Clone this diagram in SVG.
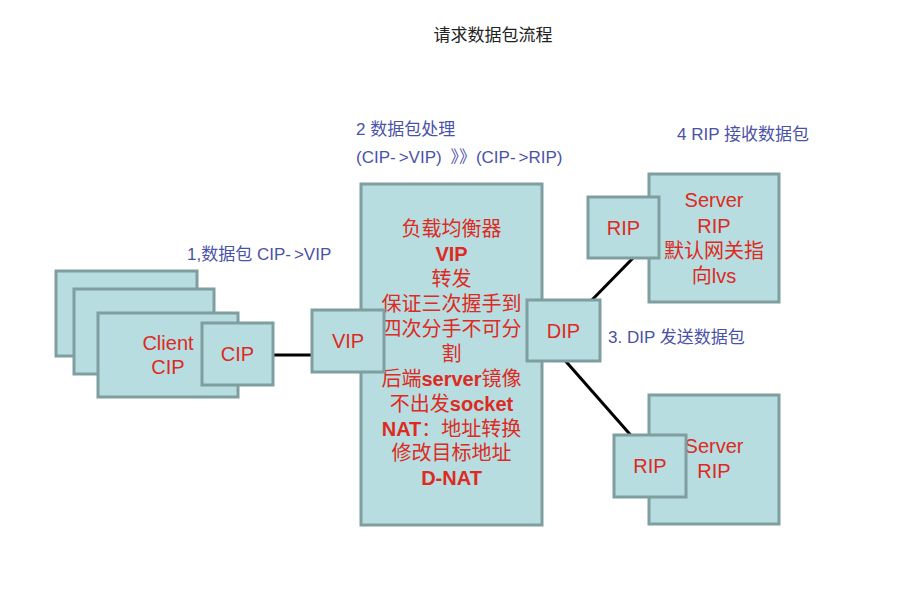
<svg xmlns="http://www.w3.org/2000/svg" width="915" height="607" viewBox="0 0 915 607">
<style>
.box{fill:#b7dde0;stroke:#7f9ea0;stroke-width:3}
.t{font-family:"Liberation Sans","Noto Sans CJK SC",sans-serif;fill:#dd2a22;font-size:20px;text-anchor:middle}
.b{font-weight:bold}
.lbl{font-family:"Liberation Sans","Noto Sans CJK SC",sans-serif;fill:#4a52a8;font-size:17px}
.title{font-family:"Noto Sans CJK SC","Liberation Sans",sans-serif;fill:#222;font-size:17px;text-anchor:middle}
.conn{stroke:#000;stroke-width:3;fill:none}
</style>
<rect width="915" height="607" fill="#fff"/>
<text class="title" x="493" y="41">请求数据包流程</text>

<g id="connectors">
<line class="conn" x1="270" y1="355" x2="315" y2="355"/>
<line class="conn" x1="587" y1="305" x2="637" y2="254"/>
<line class="conn" x1="562" y1="357" x2="635" y2="440"/>
</g>

<g id="client3"><rect class="box" x="56" y="271" width="141" height="85"/></g>
<g id="client2"><rect class="box" x="74" y="289" width="140" height="85"/></g>
<g id="client1"><rect class="box" x="98" y="313" width="140" height="84"/>
<text class="t" x="168" y="350">Client</text><text class="t" x="168" y="374">CIP</text></g>
<g id="cip"><rect class="box" x="202" y="323" width="71" height="62"/><text class="t" x="237.5" y="361">CIP</text></g>

<g id="lb"><rect class="box" x="361" y="184" width="181" height="341"/>
<text class="t" x="451.5" y="236">负载均衡器</text>
<text class="t b" x="451.5" y="261">VIP</text>
<text class="t" x="451.5" y="286">转发</text>
<text class="t" x="451.5" y="311">保证三次握手到</text>
<text class="t" x="451.5" y="336">四次分手不可分</text>
<text class="t" x="451.5" y="361">割</text>
<text class="t" x="451.5" y="386">后端<tspan class="b">server</tspan>镜像</text>
<text class="t" x="451.5" y="411">不出发<tspan class="b">socket</tspan></text>
<text class="t" x="451.5" y="436"><tspan class="b">NAT</tspan>：地址转换</text>
<text class="t" x="451.5" y="460">修改目标地址</text>
<text class="t b" x="451.5" y="485">D-NAT</text>
</g>
<g id="vip"><rect class="box" x="312" y="310" width="72" height="62"/><text class="t" x="348" y="348">VIP</text></g>
<g id="dip"><rect class="box" x="527" y="300" width="73" height="61"/><text class="t" x="563.5" y="338">DIP</text></g>

<g id="server1"><rect class="box" x="649" y="174" width="130" height="128"/>
<text class="t" x="714" y="207">Server</text>
<text class="t" x="714" y="233">RIP</text>
<text class="t" x="714" y="258">默认网关指</text>
<text class="t" x="714" y="283">向lvs</text></g>
<g id="rip1"><rect class="box" x="588" y="197" width="71" height="61"/><text class="t" x="623.5" y="235">RIP</text></g>

<g id="server2"><rect class="box" x="649" y="395" width="130" height="129"/>
<text class="t" x="714" y="453">Server</text>
<text class="t" x="714" y="478">RIP</text></g>
<g id="rip2"><rect class="box" x="614" y="435" width="72" height="62"/><text class="t" x="650" y="473">RIP</text></g>

<text class="lbl" x="187" y="260">1,数据包 CIP-<tspan dx="3">&gt;</tspan>VIP</text>
<text class="lbl" x="356" y="135">2 数据包处理</text>
<text class="lbl" x="356" y="163">(CIP-<tspan dx="3">&gt;</tspan>VIP)  <tspan dx="4">》》</tspan>(CIP-<tspan dx="3">&gt;</tspan>RIP)</text>
<text class="lbl" x="608" y="343">3. DIP 发送数据包</text>
<text class="lbl" x="677" y="140">4 RIP 接收数据包</text>
</svg>
